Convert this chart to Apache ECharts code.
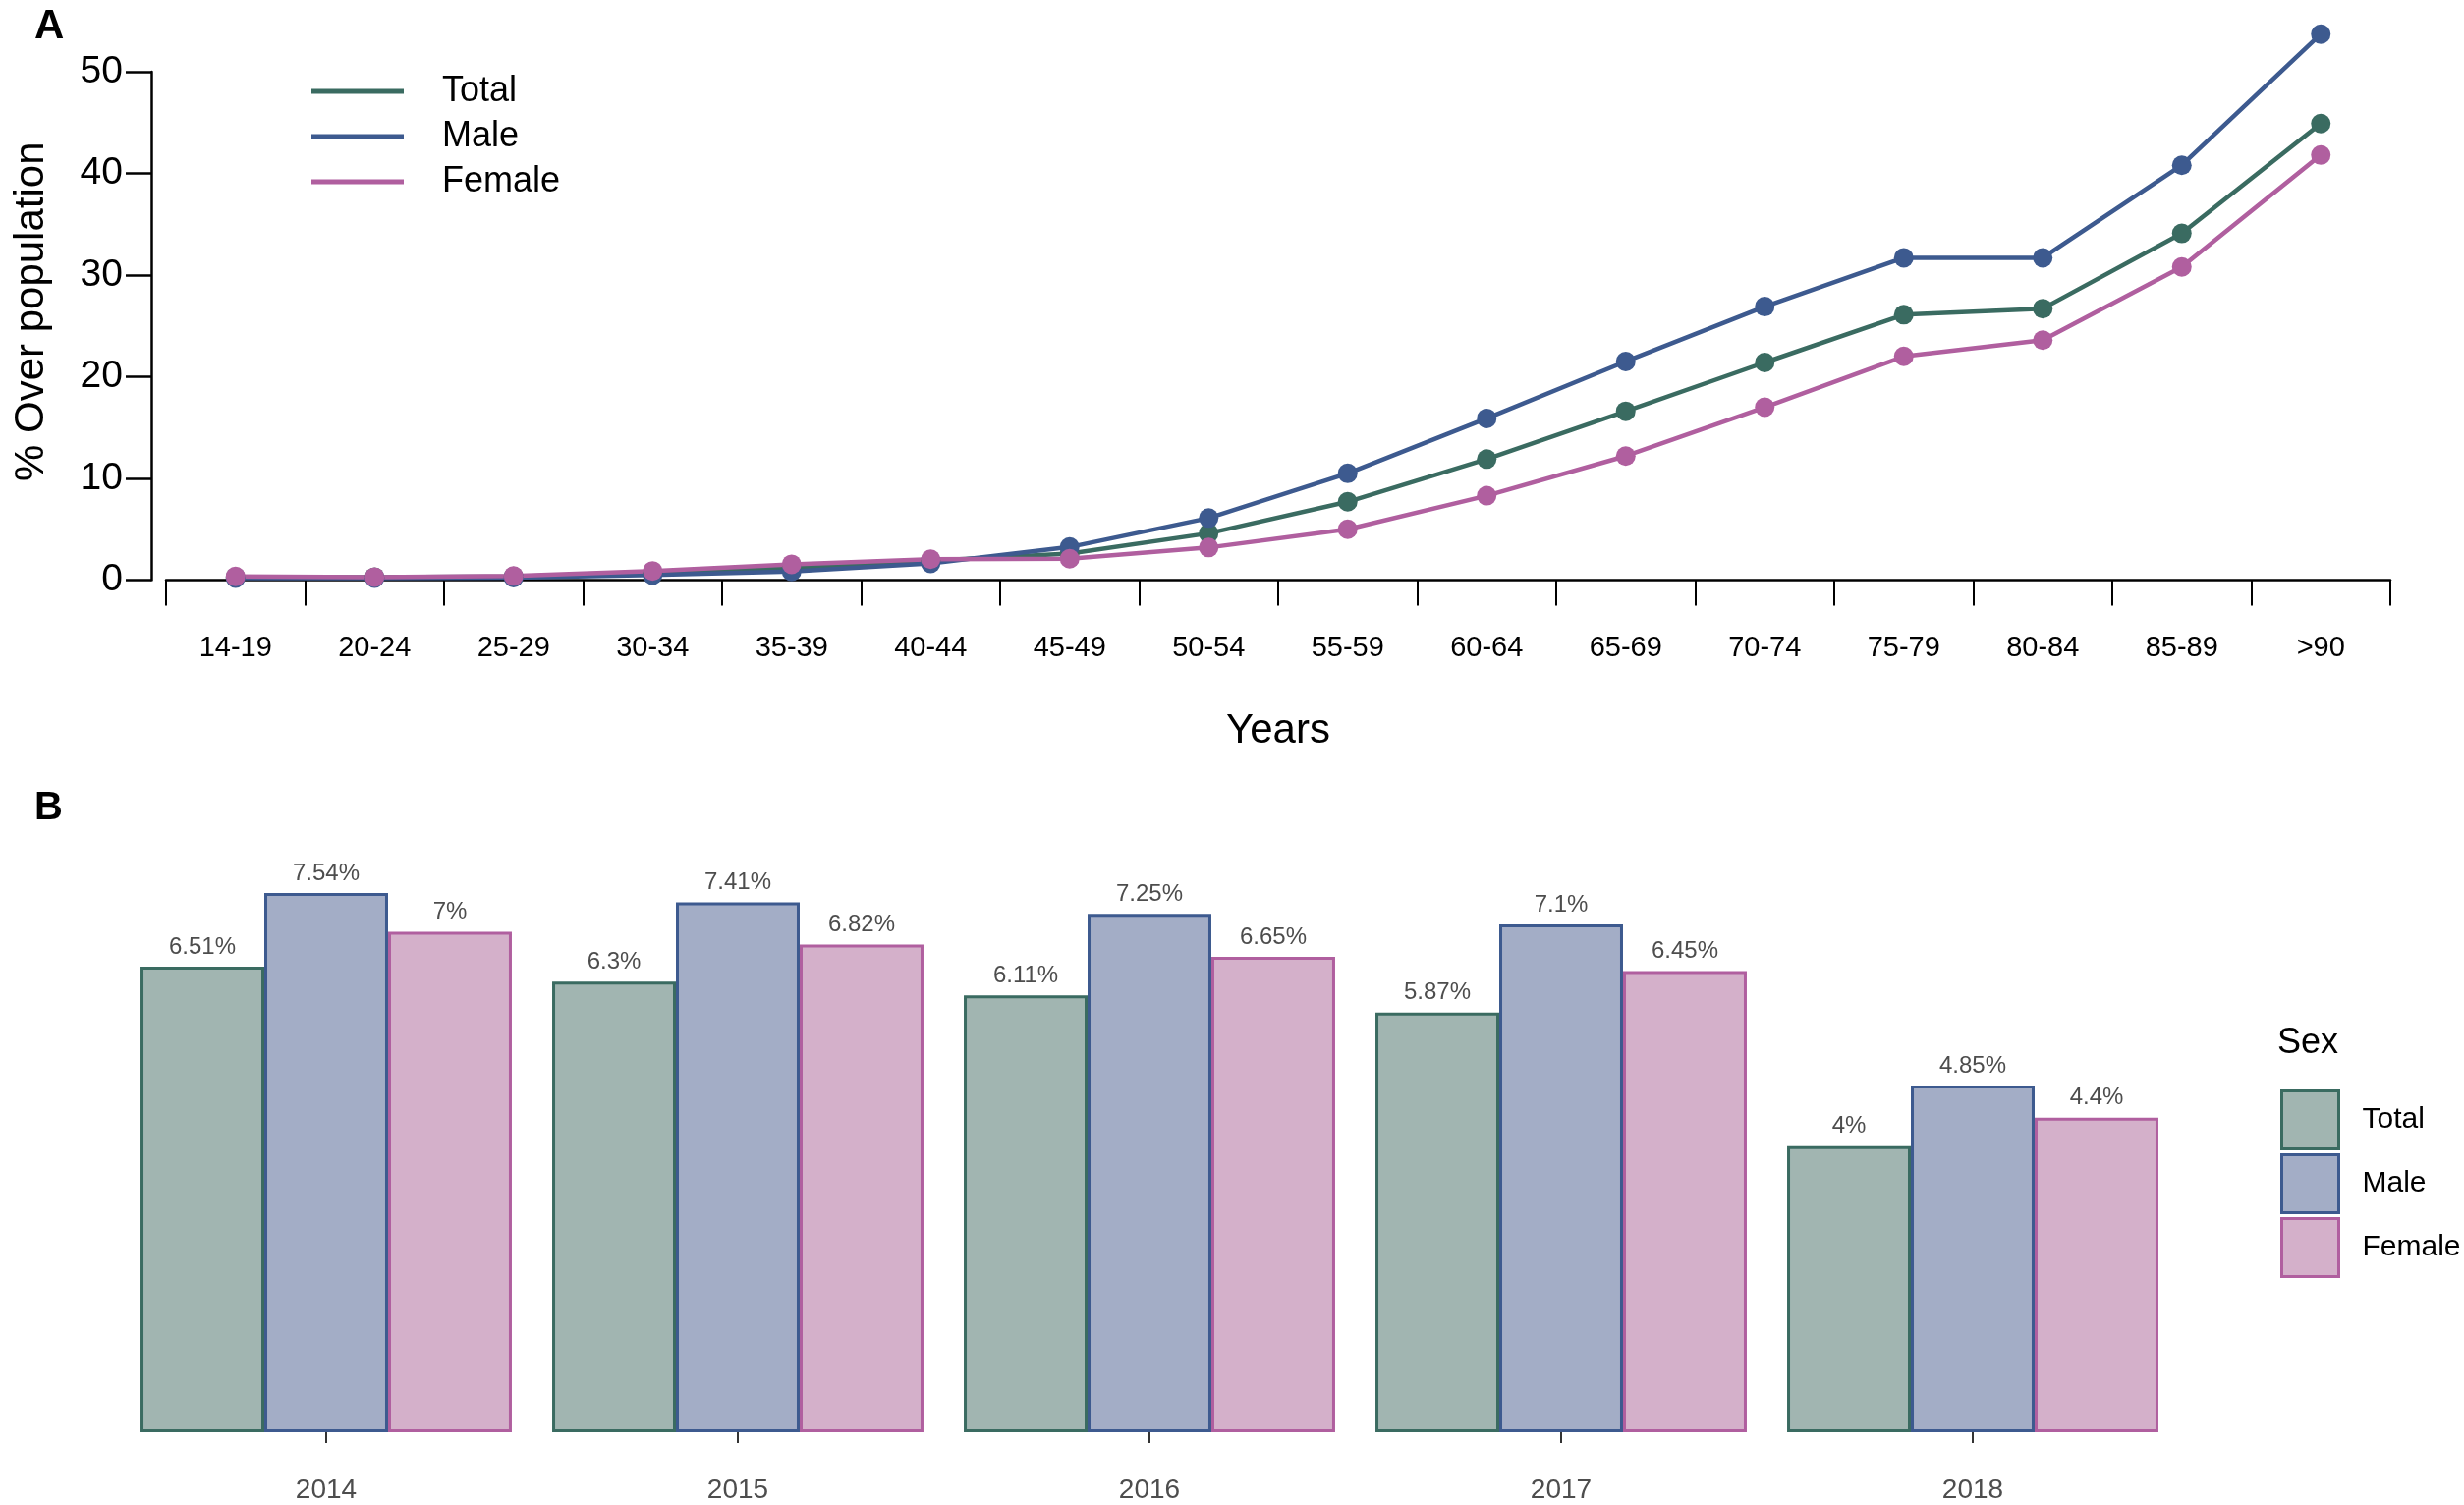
<!DOCTYPE html>
<html>
<head>
<meta charset="utf-8">
<script src="https://cdn.jsdelivr.net/npm/echarts@6/dist/echarts.min.js"></script>
<style>
html,body{margin:0;padding:0;background:#fff;}
#chart{width:2508px;height:1532px;}
</style>
</head>
<body>
<div id="chart"></div>
<script>
// ---- Data ----
const ageGroups = ['14-19','20-24','25-29','30-34','35-39','40-44','45-49','50-54','55-59','60-64','65-69','70-74','75-79','80-84','85-89','>90'];
const lineTotal  = [0.3, 0.3, 0.35, 0.7, 1.2, 1.9, 2.6, 4.6, 7.7, 11.9, 16.6, 21.4, 26.1, 26.7, 34.1, 44.9];
const lineMale   = [0.2, 0.2, 0.25, 0.5, 0.85, 1.65, 3.25, 6.1, 10.5, 15.9, 21.5, 26.9, 31.7, 31.7, 40.8, 53.7];
const lineFemale = [0.35, 0.3, 0.4, 0.9, 1.55, 2.05, 2.1, 3.2, 5.0, 8.3, 12.2, 17.0, 22.0, 23.6, 30.8, 41.8];
const yTicksA = [0, 10, 20, 30, 40, 50];

const years = ['2014','2015','2016','2017','2018'];
const barTotal  = [6.51, 6.3, 6.11, 5.87, 4];
const barMale   = [7.54, 7.41, 7.25, 7.1, 4.85];
const barFemale = [7, 6.82, 6.65, 6.45, 4.4];

// ---- Styles ----
const FONT = "'Liberation Sans', Arial, Helvetica, sans-serif";
const cTotal = '#3a6b61', cMale = '#3d5a8f', cFemale = '#b05f9f';
const fTotal = '#a1b5b1', fMale = '#a3adc6', fFemale = '#d4b0ca';

const chart = echarts.init(document.getElementById('chart'), null, {renderer:'canvas'});

function lineSeries(name, data, color){
  return {
    name: name, type: 'line', xAxisIndex: 0, yAxisIndex: 0, data: data,
    symbol: 'circle', symbolSize: 20, showSymbol: true,
    lineStyle: {color: color, width: 4.5},
    itemStyle: {color: color},
    z: 3
  };
}
function barSeries(name, data, fill, border){
  return {
    name: name, type: 'bar', xAxisIndex: 2, yAxisIndex: 2, data: data,
    barGap: '0%', barCategoryGap: '9.8%',
    itemStyle: {color: fill, borderColor: border, borderWidth: 3},
    label: {show: true, position: 'top', distance: 8, formatter: '{c}%', fontSize: 24, color: '#4d4d4d', fontFamily: FONT}
  };
}

const option = {
  animation: false,
  backgroundColor: '#ffffff',
  textStyle: {fontFamily: FONT},
  title: [
    {text: 'A', left: 35, top: 6, padding: 0, textStyle: {fontSize: 42, fontWeight: 'bold', color: '#000', fontFamily: FONT}},
    {text: 'B', left: 35, top: 803, padding: 0, textStyle: {fontSize: 40, fontWeight: 'bold', color: '#000', fontFamily: FONT}},
    {text: 'Sex', left: 2318, top: 1044, padding: 0, textStyle: {fontSize: 36, fontWeight: 'normal', color: '#000', fontFamily: FONT}}
  ],
  legend: [
    {
      orient: 'vertical', left: 312, top: 68, itemWidth: 94, itemHeight: 5, itemGap: 6,
      icon: 'rect', selectedMode: false,
      textStyle: {fontSize: 36, color: '#000', lineHeight: 40, padding: [0,0,0,34], fontFamily: FONT},
      data: [
        {name: 'Total', itemStyle: {color: cTotal}},
        {name: 'Male', itemStyle: {color: cMale}},
        {name: 'Female', itemStyle: {color: cFemale}}
      ]
    },
    {
      orient: 'vertical', left: 2316, top: 1104, itemWidth: 58, itemHeight: 59, itemGap: 3,
      icon: 'rect', selectedMode: false,
      formatter: function(n){ return n.trim(); },
      textStyle: {fontSize: 30, color: '#000', padding: [0,0,0,19], fontFamily: FONT},
      data: [
        {name: 'Total ', itemStyle: {color: fTotal, borderColor: cTotal, borderWidth: 3}},
        {name: 'Male ', itemStyle: {color: fMale, borderColor: cMale, borderWidth: 3}},
        {name: 'Female ', itemStyle: {color: fFemale, borderColor: cFemale, borderWidth: 3}}
      ]
    }
  ],
  grid: [
    {left: 169, right: 75, top: 21.25, height: 592, containLabel: false},
    {left: 154, width: 10, top: 73, height: 517.5, containLabel: false},
    {left: 122.5, right: 290.5, top: 875.6, height: 582.4, containLabel: false}
  ],
  xAxis: [
    {
      gridIndex: 0, type: 'category', data: ageGroups, boundaryGap: true,
      axisLine: {show: true, lineStyle: {color: '#000', width: 2.5}},
      axisTick: {show: true, interval: 0, length: 26, lineStyle: {color: '#000', width: 2}},
      axisLabel: {interval: 0, fontSize: 29, color: '#000', margin: 32, fontFamily: FONT},
      name: 'Years', nameLocation: 'middle', nameGap: 110,
      nameTextStyle: {fontSize: 42, color: '#000', fontFamily: FONT},
      splitLine: {show: false}
    },
    {gridIndex: 1, type: 'value', min: 0, max: 1, show: false},
    {
      gridIndex: 2, type: 'category', data: years, boundaryGap: true, offset: 27,
      axisLine: {show: false},
      axisTick: {show: true, alignWithLabel: true, length: 11, lineStyle: {color: '#333', width: 2}},
      axisLabel: {fontSize: 28, color: '#4d4d4d', margin: 18, fontFamily: FONT},
      splitLine: {show: false}
    }
  ],
  yAxis: [
    {
      gridIndex: 0, type: 'value', min: -2.2, max: 55,
      axisLine: {show: false}, axisTick: {show: false}, axisLabel: {show: false}, splitLine: {show: false},
      name: '% Over population', nameLocation: 'middle', nameGap: 116,
      nameTextStyle: {fontSize: 42, color: '#000', fontFamily: FONT}
    },
    {
      gridIndex: 1, type: 'value', min: 0, max: 50, interval: 10,
      axisLine: {show: true, lineStyle: {color: '#000', width: 2.5}},
      axisTick: {show: true, length: 26, lineStyle: {color: '#000', width: 2.5}},
      axisLabel: {fontSize: 39, color: '#000', margin: 29, fontFamily: FONT,
        formatter: function(v){ return yTicksA.indexOf(v) >= 0 ? String(v) : ''; }},
      splitLine: {show: false}
    },
    {gridIndex: 2, type: 'value', min: 0, max: 8, show: false}
  ],
  series: [
    lineSeries('Total', lineTotal, cTotal),
    lineSeries('Male', lineMale, cMale),
    lineSeries('Female', lineFemale, cFemale),
    barSeries('Total ', barTotal, fTotal, cTotal),
    barSeries('Male ', barMale, fMale, cMale),
    barSeries('Female ', barFemale, fFemale, cFemale)
  ]
};
chart.setOption(option);
</script>
</body>
</html>
